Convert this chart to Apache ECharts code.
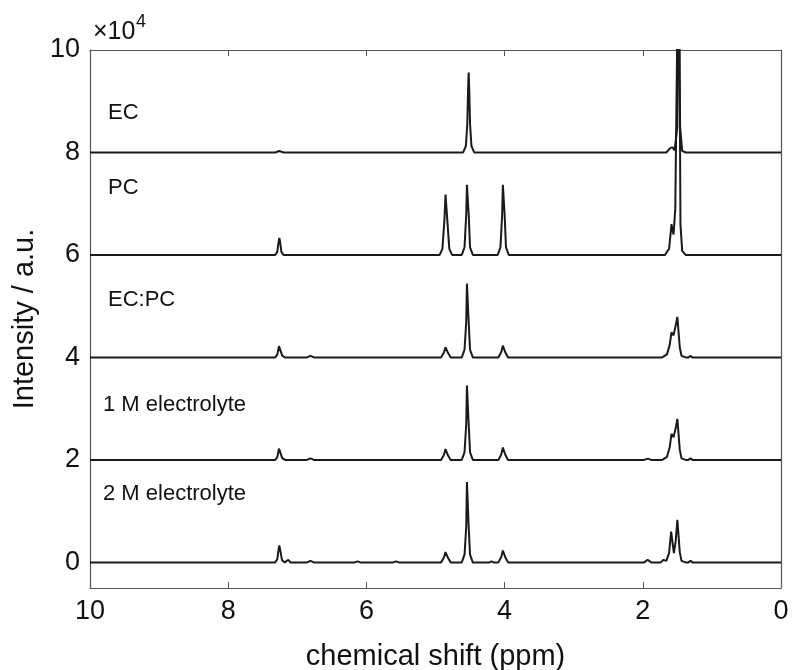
<!DOCTYPE html>
<html style="height: 100%">
<head>
  <meta charset="UTF-8" />
  <title>NMR spectra</title>
  <script src="https://cdn.jsdelivr.net/npm/echarts@6/dist/echarts.min.js"></script>
</head>
<body style="height: 100%; margin: 0; background: #fff">
  <div id="container" style="width: 792px; height: 670px"></div>
  <script>
    // spectrum names (top to bottom) and their vertical offsets
    const names = ['EC', 'PC', 'EC:PC', '1 M electrolyte', '2 M electrolyte'];
    const offsets = [80000, 60000, 40000, 20000, 0];
    const yTicks = [0, 20000, 40000, 60000, 80000, 100000];

    // [ppm, intensity], relative to each baseline
    const ecData = [
      [10, 0], [7.32, 0], [7.26, 300], [7.20, 0],
      [4.60, 0], [4.56, 1300], [4.54, 5500], [4.528, 12500], [4.52, 15600], [4.512, 12500], [4.50, 5500], [4.48, 1300], [4.44, 0],
      [1.66, 0], [1.60, 900], [1.57, 1000], [1.54, 400], [1.50, 5000], [1.49, 40000], [1.47, 40000], [1.46, 5000], [1.43, 300], [1.38, 0],
      [0, 0]
    ];
    const pcData = [
      [10, 0], [7.32, 0], [7.29, 600], [7.27, 2600], [7.26, 3300], [7.25, 2600], [7.23, 600], [7.20, 0],
      [4.94, 0], [4.90, 1200], [4.87, 7000], [4.855, 11800], [4.845, 12000], [4.83, 7000], [4.80, 1200], [4.76, 0],
      [4.62, 0], [4.58, 1500], [4.555, 8000], [4.545, 13700], [4.535, 13700], [4.52, 8000], [4.50, 1500], [4.46, 0],
      [4.10, 0], [4.06, 1500], [4.035, 8000], [4.025, 13700], [4.015, 13700], [4.00, 8000], [3.98, 1500], [3.94, 0],
      [1.68, 0], [1.62, 1200], [1.595, 4500], [1.585, 6000], [1.57, 4800], [1.555, 4000], [1.53, 9000], [1.50, 45000], [1.47, 45000], [1.455, 6000], [1.43, 800], [1.38, 0],
      [0, 0]
    ];
    const ecpcData = [
      [10, 0], [7.32, 0], [7.29, 500], [7.265, 2200], [7.255, 2200], [7.22, 400], [7.18, 0],
      [6.86, 0], [6.81, 300], [6.76, 0],
      [4.92, 0], [4.88, 900], [4.855, 2000], [4.845, 2000], [4.82, 900], [4.78, 0],
      [4.62, 0], [4.58, 1500], [4.555, 7000], [4.545, 14400], [4.535, 14400], [4.52, 7000], [4.50, 1500], [4.46, 0],
      [4.09, 0], [4.05, 1000], [4.025, 2300], [4.015, 2300], [3.99, 1000], [3.95, 0],
      [1.72, 0], [1.65, 600], [1.61, 2500], [1.585, 4900], [1.555, 4300], [1.52, 6500], [1.50, 7900], [1.485, 7800], [1.465, 2000], [1.44, 300], [1.38, 0],
      [1.34, 0], [1.31, 300], [1.28, 0],
      [0, 0]
    ];
    const m1Data = [
      [10, 0], [7.32, 0], [7.29, 500], [7.265, 2200], [7.255, 2200], [7.22, 400], [7.18, 0],
      [6.86, 0], [6.81, 300], [6.76, 0],
      [4.92, 0], [4.88, 900], [4.855, 2100], [4.845, 2100], [4.82, 900], [4.78, 0],
      [4.62, 0], [4.58, 1500], [4.555, 7000], [4.545, 14500], [4.535, 14500], [4.52, 7000], [4.50, 1500], [4.46, 0],
      [4.09, 0], [4.05, 1000], [4.025, 2400], [4.015, 2400], [3.99, 1000], [3.95, 0],
      [1.98, 0], [1.93, 250], [1.88, 0],
      [1.72, 0], [1.65, 600], [1.61, 2500], [1.585, 5100], [1.555, 4400], [1.52, 6500], [1.50, 8000], [1.485, 7900], [1.465, 2000], [1.44, 300], [1.38, 0],
      [1.34, 0], [1.31, 300], [1.28, 0],
      [0, 0]
    ];
    const m2Data = [
      [10, 0], [7.32, 0], [7.29, 600], [7.27, 2600], [7.26, 3300], [7.25, 2600], [7.22, 400], [7.18, 0],
      [7.16, 0], [7.13, 500], [7.10, 0],
      [6.86, 0], [6.81, 300], [6.76, 0],
      [6.17, 0], [6.13, 200], [6.09, 0],
      [5.61, 0], [5.57, 200], [5.53, 0],
      [4.92, 0], [4.88, 900], [4.855, 2000], [4.845, 2000], [4.82, 900], [4.78, 0],
      [4.62, 0], [4.58, 1500], [4.555, 7000], [4.545, 15700], [4.535, 15700], [4.52, 7000], [4.50, 1500], [4.46, 0],
      [4.22, 0], [4.19, 200], [4.16, 0],
      [4.09, 0], [4.05, 1000], [4.025, 2300], [4.015, 2300], [3.99, 1000], [3.95, 0],
      [1.98, 0], [1.93, 500], [1.88, 0],
      [1.74, 0], [1.70, 500], [1.66, 300], [1.62, 1800], [1.59, 6000], [1.575, 6000], [1.55, 1800], [1.525, 4000], [1.50, 8300], [1.485, 8200], [1.465, 2000], [1.44, 300], [1.38, 0],
      [1.34, 0], [1.31, 300], [1.28, 0],
      [0, 0]
    ];
    const spectra = [ecData, pcData, ecpcData, m1Data, m2Data];

    const font = "'Liberation Sans', Arial, sans-serif";
    const axisColor = '#555';
    const textColor = '#111';

    const chart = echarts.init(document.getElementById('container'), null, { renderer: 'canvas' });

    const series = spectra.map((d, i) => ({
      name: names[i],
      type: 'line',
      data: d.map(p => [p[0], p[1] + offsets[i]]),
      showSymbol: false,
      symbol: 'none',
      clip: true,
      lineStyle: { color: '#1a1a1a', width: 2 },
      z: 3
    }));

    // label anchors (left px, vertical middle px)
    const labelLefts = [108, 108, 108, 103, 103];
    const labelMids = [114, 189, 301, 406, 495];

    const option = {
      animation: false,
      grid: { left: 90, right: 11, top: 50, bottom: 82, outerBoundsMode: 'none' },
      xAxis: [{
        type: 'value', inverse: true, min: 0, max: 10, interval: 2,
        position: 'bottom',
        name: 'chemical shift (ppm)', nameLocation: 'middle', nameGap: 54,
        nameTextStyle: { fontFamily: font, fontSize: 29, color: textColor },
        axisLine: { show: true, onZero: false, lineStyle: { color: axisColor, width: 1.2 } },
        axisTick: { show: true, inside: true, length: 6, lineStyle: { color: axisColor } },
        axisLabel: { fontFamily: font, fontSize: 27, color: textColor, margin: 10 },
        splitLine: { show: false }
      }, {
        type: 'value', inverse: true, min: 0, max: 10, interval: 2,
        position: 'top',
        axisLine: { show: true, onZero: false, lineStyle: { color: axisColor, width: 1.2 } },
        axisTick: { show: true, inside: true, length: 6, lineStyle: { color: axisColor } },
        axisLabel: { show: false },
        splitLine: { show: false }
      }],
      yAxis: [{
        type: 'value', min: -5000, max: 100000,
        position: 'left',
        name: 'Intensity / a.u.', nameLocation: 'middle', nameGap: 46,
        nameTextStyle: { fontFamily: font, fontSize: 29, color: textColor },
        axisLine: { show: true, onZero: false, lineStyle: { color: axisColor, width: 1.2 } },
        axisTick: { show: true, inside: true, length: 6, customValues: yTicks, lineStyle: { color: axisColor } },
        axisLabel: {
          fontFamily: font, fontSize: 27, color: textColor, margin: 10,
          customValues: yTicks,
          formatter: v => String(v / 10000)
        },
        splitLine: { show: false }
      }, {
        type: 'value', min: -5000, max: 100000,
        position: 'right',
        axisLine: { show: true, onZero: false, lineStyle: { color: axisColor, width: 1.2 } },
        axisTick: { show: true, inside: true, length: 6, customValues: yTicks, lineStyle: { color: axisColor } },
        axisLabel: { show: false },
        splitLine: { show: false }
      }],
      graphic: [
        { type: 'text', left: 93, top: 20, style: { text: '×10', font: '25px ' + font, fill: textColor } },
        { type: 'text', left: 136, top: 13, style: { text: '4', font: '18px ' + font, fill: textColor } }
      ].concat(names.map((n, i) => ({
        type: 'text', left: labelLefts[i], top: labelMids[i] - 12,
        style: { text: n, font: '22px ' + font, fill: textColor }
      }))),
      series: series
    };
    chart.setOption(option);
  </script>
</body>
</html>
